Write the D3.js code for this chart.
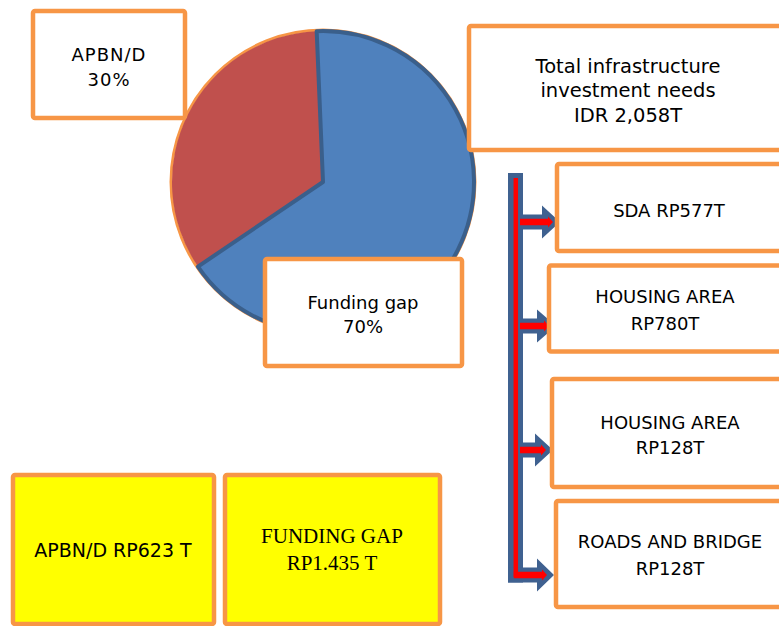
<!DOCTYPE html>
<html>
<head>
<meta charset="utf-8">
<script src="https://cdn.jsdelivr.net/npm/d3@7/dist/d3.min.js"></script>
<style>
  html, body { margin: 0; padding: 0; background: #ffffff; }
  svg { display: block; }
</style>
</head>
<body>
<script>
// ---- data ----
const pieCategories = ["Funding gap", "APBN/D"];
const piePercentLabels = ["70%", "30%"];
const pieShares = [66.2, 33.8];           // slice sizes as drawn in the picture
const pieColors = ["#4F81BD", "#C0504D"];

const totalLines = ["Total infrastructure", "investment needs", "IDR 2,058T"];

const sectorNames = ["SDA", "HOUSING AREA", "HOUSING AREA", "ROADS AND BRIDGE"];
const sectorValues = ["RP577T", "RP780T", "RP128T", "RP128T"];

const summaryNames = ["APBN/D", "FUNDING GAP"];
const summaryValues = ["RP623 T", "RP1.435 T"];

// ---- drawing ----
const W = 779, H = 626;
const ORANGE = "#F79646", ARROW_BLUE = "#3F6190", RED = "#FF0000";
const SANS = "'DejaVu Sans', Verdana, sans-serif";
const SERIF = "'Liberation Serif', 'Times New Roman', serif";

const svg = d3.select("body").append("svg")
  .attr("width", W).attr("height", H)
  .attr("viewBox", `0 0 ${W} ${H}`);
svg.append("rect").attr("width", W).attr("height", H).attr("fill", "#fff");

// Pie
const cx = 323, cy = 182, R = 151;
const start = -2.4 * Math.PI / 180;
const pie = d3.pie().sort(null).startAngle(start).endAngle(start + 2 * Math.PI);
const arcs = pie(pieShares);
const arc = d3.arc().innerRadius(0).outerRadius(R);
const pg = svg.append("g").attr("transform", `translate(${cx},${cy})`);
pg.append("circle").attr("r", R + 1).attr("fill", "none")
  .attr("stroke", ORANGE).attr("stroke-width", 3);
pg.append("path").attr("d", arc(arcs[1])).attr("fill", pieColors[1]);
pg.append("path").attr("d", arc(arcs[0])).attr("fill", pieColors[0])
  .attr("stroke", "#3A5F8B").attr("stroke-width", 4).attr("stroke-linejoin", "round");

// generic box with centred text lines
function box(x, y, w, h, lines, opts) {
  opts = opts || {};
  const g = svg.append("g");
  g.append("rect").attr("x", x).attr("y", y).attr("width", w).attr("height", h)
    .attr("rx", 2).attr("fill", opts.fill || "#fff")
    .attr("stroke", ORANGE).attr("stroke-width", 4.5);
  const t = g.append("text")
    .attr("font-family", opts.font || SANS)
    .attr("font-size", opts.size || 18)
    .attr("letter-spacing", opts.ls || 0)
    .attr("fill", "#000")
    .attr("text-anchor", "middle");
  lines.forEach((s, i) => {
    t.append("tspan").attr("x", opts.tx).attr("y", opts.baselines[i]).text(s);
  });
  return g;
}

// pie labels
box(33, 11, 152, 107, [pieCategories[1], piePercentLabels[1]], { tx: 109, baselines: [61, 86], size: 18, ls: 1 });
box(265, 259, 197, 107, [pieCategories[0], piePercentLabels[0]], { tx: 363, baselines: [309, 333] });

// total
box(469, 26, 330, 124, totalLines, { tx: 628, baselines: [73, 97, 122], size: 19.5 });

// arrows
const ag = svg.append("g");
const barX0 = 508, barX1 = 523, barTop = 173;
const arrowYs = [222, 326, 450, 575];
const headStarts = [542, 537, 535, 537];
const tips = [560, 556, 553, 554];
const lastY = arrowYs[arrowYs.length - 1];
ag.append("rect").attr("x", barX0).attr("y", barTop)
  .attr("width", barX1 - barX0).attr("height", lastY + 7.5 - barTop).attr("fill", ARROW_BLUE);
arrowYs.forEach((y, i) => {
  const sx = (i === arrowYs.length - 1) ? barX0 : barX1;
  ag.append("path")
    .attr("d", `M${sx},${y - 7.5} L${headStarts[i]},${y - 7.5} L${headStarts[i]},${y - 16.5} L${tips[i]},${y} L${headStarts[i]},${y + 16.5} L${headStarts[i]},${y + 7.5} L${sx},${y + 7.5} Z`)
    .attr("fill", ARROW_BLUE);
});
const redX = 515.8;
ag.append("line").attr("x1", redX).attr("x2", redX).attr("y1", 178).attr("y2", lastY + 2)
  .attr("stroke", RED).attr("stroke-width", 4.5);
arrowYs.forEach((y, i) => {
  const sx = (i === arrowYs.length - 1) ? redX - 2 : 520;
  const ex = tips[i] - 7;
  ag.append("path")
    .attr("d", `M${sx},${y - 3.2} L${ex - 5},${y - 3.2} L${ex - 5},${y - 5.5} L${ex},${y} L${ex - 5},${y + 5.5} L${ex - 5},${y + 3.2} L${sx},${y + 3.2} Z`)
    .attr("fill", RED);
});

// sector boxes
const sectorBoxes = [
  { x: 557, y: 164, w: 240, h: 87, tx: 669, bl: [217] },
  { x: 549, y: 265.5, w: 250, h: 86, tx: 665, bl: [303, 330] },
  { x: 552, y: 379, w: 240, h: 108, tx: 670, bl: [429, 454] },
  { x: 556, y: 501, w: 240, h: 106, tx: 670, bl: [548, 575] }
];
sectorNames.forEach((n, i) => {
  const b = sectorBoxes[i];
  const lines = b.bl.length === 1 ? [n + " " + sectorValues[i]] : [n, sectorValues[i]];
  box(b.x, b.y, b.w, b.h, lines, { tx: b.tx, baselines: b.bl });
});

// yellow summary boxes
box(13, 475, 201, 149, [summaryNames[0] + " " + summaryValues[0]],
  { tx: 113, baselines: [557], fill: "#FFFF00", size: 19 });
box(225, 475, 215, 149, [summaryNames[1], summaryValues[1]],
  { tx: 332, baselines: [543, 570], fill: "#FFFF00", font: SERIF, size: 21 });
</script>
</body>
</html>
